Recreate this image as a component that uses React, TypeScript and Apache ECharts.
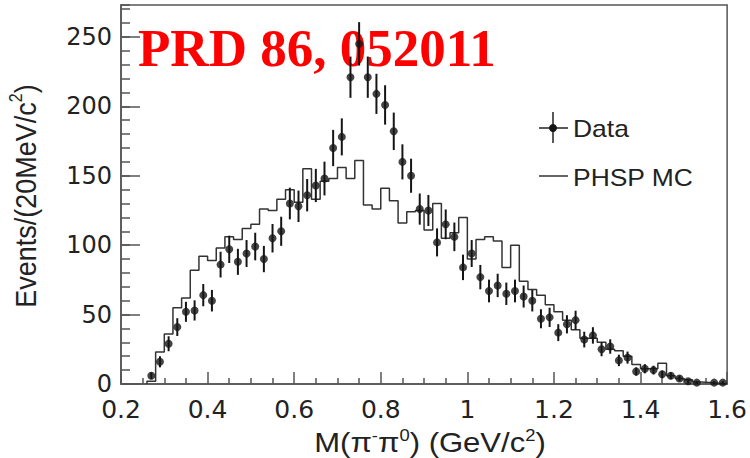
import React, { useEffect, useRef } from 'react';
import * as echarts from 'echarts';

// bin width 20 MeV/c^2
const binWidth = 0.02;

// Data: counts per bin, bin centres start at 0.27 GeV/c^2 (null = empty bin)
const dataFirstCentre = 0.27;
const dataCounts: (number | null)[] = [
  6, 16, 29, 41, 52, 53, 64, 60, 86, 97,
  88, 94, 99, 90, 105, 110, 130, 128, 136, 143,
  148, 170, 178, 221, 245, 221, 209, 201, 182, 160,
  150, 126, 125, 102, 115, 106, 84, 94, 77, 67,
  71, 65, 67, 63, 60, 47, 48, 37, 43, 46,
  32, 35, 25, 27, 17, 19, 9, 11, 10, 7,
  6, 4, 2, 1, null, 1, 1,
];

// PHSP MC histogram: bin contents, first bin low edge 0.26 GeV/c^2
const mcFirstEdge = 0.26;
const mcCounts: number[] = [
  2, 23, 36, 55, 62, 82, 92, 89, 98, 106,
  104, 112, 115, 126, 125, 133, 140, 131, 155, 133,
  146, 148, 156, 148, 161, 129, 126, 141, 132, 116,
  124, 125, 111, 130, 105, 109, 120, 90, 104, 106,
  103, 84, 100, 74, 68, 64, 57, 52, 46, 39,
  33, 33, 30, 25, 24, 20, 14, 11, 11, 15,
  6, 4, 3, 1.5, 1, 0.5, 0,
];

const xMin = 0.2;
const xMax = 1.6;
const xStep = 0.2;
const yMin = 0;
const yMax = 273;
const yMajor = 50;
const yMinor = 10;

const titleText = 'PRD 86, 052011';
const legendData = 'Data';
const legendMC = 'PHSP MC';

export default function App() {
  const ref = useRef<HTMLDivElement>(null);

  useEffect(() => {
    if (!ref.current) return;
    const chart = echarts.init(ref.current, null, { renderer: 'svg' });

    const dataPts: number[][] = [];
    dataCounts.forEach((c, i) => {
      if (c == null) return;
      dataPts.push([+(dataFirstCentre + i * binWidth).toFixed(3), c, Math.sqrt(c)]);
    });

    const mcPts: number[][] = [[mcFirstEdge, 0]];
    mcCounts.forEach((c, i) => {
      mcPts.push([+(mcFirstEdge + i * binWidth).toFixed(3), c]);
    });
    mcPts.push([+(mcFirstEdge + mcCounts.length * binWidth).toFixed(3), 0]);

    const axisCol = '#555';
    const labelFont = 'DejaVu Sans';
    const textFont = '"Liberation Sans", Arial, Helvetica, sans-serif';

    chart.setOption({
      animation: false,
      backgroundColor: '#ffffff',
      grid: {
        left: 121,
        top: 5,
        right: 22,
        bottom: 74,
        show: true,
        borderColor: axisCol,
        borderWidth: 1.5,
        backgroundColor: 'transparent',
      },
      xAxis: {
        type: 'value',
        min: xMin,
        max: xMax,
        interval: xStep,
        axisLine: { show: true, lineStyle: { color: axisCol, width: 1.5 } },
        axisTick: { show: true, inside: true, length: 12, lineStyle: { color: axisCol, width: 1.5 } },
        minorTick: { show: true, splitNumber: 4, length: 6, lineStyle: { color: axisCol, width: 1.5 } },
        axisLabel: { margin: 13, lineHeight: 24, fontFamily: labelFont, fontSize: 25, color: '#222' },
        splitLine: { show: false },
        minorSplitLine: { show: false },
      },
      yAxis: [
        {
          type: 'value',
          min: yMin,
          max: yMax,
          interval: yMajor,
          position: 'left',
          axisLine: { show: true, lineStyle: { color: axisCol, width: 1.5 } },
          axisTick: { show: true, inside: true, length: 19, lineStyle: { color: axisCol, width: 1.5 } },
          axisLabel: {
            margin: 9,
            lineHeight: 20,
            fontFamily: labelFont,
            fontSize: 24,
            color: '#222',
            showMinLabel: true,
            showMaxLabel: false,
            formatter: (v: number) => (v % yMajor === 0 ? String(v) : ''),
          },
          splitLine: { show: false },
        },
        {
          type: 'value',
          min: yMin,
          max: yMax,
          interval: yMinor,
          position: 'left',
          axisLine: { show: false },
          axisTick: { show: true, inside: true, length: 9, lineStyle: { color: axisCol, width: 1.5 } },
          axisLabel: { show: false },
          splitLine: { show: false },
        },
      ],
      series: [
        {
          type: 'line',
          name: legendMC,
          data: mcPts,
          step: 'end',
          symbol: 'none',
          showSymbol: false,
          lineStyle: { color: '#333', width: 1.5 },
          z: 2,
        },
        {
          type: 'custom',
          name: 'err',
          data: dataPts,
          encode: { x: 0, y: 1 },
          renderItem: (params: any, api: any) => {
            const x = api.value(0);
            const y = api.value(1);
            const e = api.value(2);
            const p1 = api.coord([x, y + e]);
            const p2 = api.coord([x, Math.max(0, y - e)]);
            return {
              type: 'line',
              shape: { x1: p1[0], y1: p1[1], x2: p2[0], y2: p2[1] },
              style: { stroke: '#151515', lineWidth: 2 },
            };
          },
          z: 3,
        },
        {
          type: 'scatter',
          name: legendData,
          data: dataPts,
          symbol: 'circle',
          symbolSize: 8,
          itemStyle: { color: '#151515' },
          z: 4,
        },
      ],
      graphic: [
        {
          type: 'text',
          z: 1,
          x: 138,
          y: 48,
          style: {
            text: titleText,
            fill: '#ff0000',
            font: 'bold 53px "Liberation Serif", "Times New Roman", serif',
            align: 'left',
            verticalAlign: 'middle',
          },
        },
        {
          type: 'text',
          z: 10,
          x: 430,
          y: 443,
          scaleX: 1.15,
          style: {
            text: '{a|M(π}{s|-}{a|π}{s|0}{a|) (GeV/c}{s|2}{a|)}',
            align: 'center',
            verticalAlign: 'middle',
            rich: {
              a: { fontSize: 27, fontFamily: textFont, fill: '#222', lineHeight: 31 },
              s: { fontSize: 16, fontFamily: textFont, fill: '#222', lineHeight: 31, verticalAlign: 'top' },
            },
          },
        },
        {
          type: 'text',
          z: 10,
          x: 25,
          y: 196,
          rotation: Math.PI / 2,
          scaleY: 1.12,
          style: {
            text: '{a|Events/(20MeV/c}{s|2}{a|)}',
            align: 'center',
            verticalAlign: 'middle',
            rich: {
              a: { fontSize: 27, fontFamily: textFont, fill: '#222', lineHeight: 31 },
              s: { fontSize: 16, fontFamily: textFont, fill: '#222', lineHeight: 31, verticalAlign: 'top' },
            },
          },
        },
        {
          type: 'line',
          z: 10,
          shape: { x1: 539, y1: 128, x2: 568, y2: 128 },
          style: { stroke: '#222', lineWidth: 1.5 },
        },
        {
          type: 'line',
          z: 10,
          shape: { x1: 553, y1: 112, x2: 553, y2: 143 },
          style: { stroke: '#222', lineWidth: 1.5 },
        },
        {
          type: 'circle',
          z: 10,
          shape: { cx: 553, cy: 128, r: 4 },
          style: { fill: '#151515' },
        },
        {
          type: 'text',
          z: 10,
          x: 573,
          y: 129,
          scaleX: 1.15,
          style: {
            text: legendData,
            fill: '#222',
            font: '23px "Liberation Sans", Arial, sans-serif',
            align: 'left',
            verticalAlign: 'middle',
          },
        },
        {
          type: 'line',
          z: 10,
          shape: { x1: 539, y1: 176, x2: 568, y2: 176 },
          style: { stroke: '#333', lineWidth: 1.5 },
        },
        {
          type: 'text',
          z: 10,
          x: 573,
          y: 178,
          scaleX: 1.15,
          style: {
            text: legendMC,
            fill: '#222',
            font: '23px "Liberation Sans", Arial, sans-serif',
            align: 'left',
            verticalAlign: 'middle',
          },
        },
      ],
    });

    return () => {
      chart.dispose();
    };
  }, []);

  return (
    <div
      ref={ref}
      style={{ position: 'absolute', left: 0, top: 0, width: 750, height: 458 }}
    />
  );
}
